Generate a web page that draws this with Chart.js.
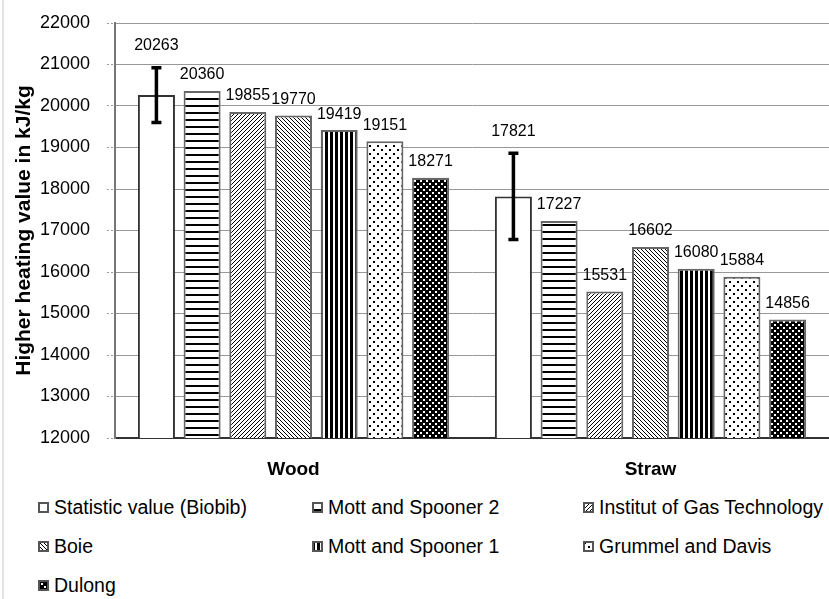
<!DOCTYPE html>
<html>
<head>
<meta charset="utf-8">
<script src="https://cdn.jsdelivr.net/npm/chart.js@4.4.0/dist/chart.umd.min.js"></script>
<style>
  body { margin: 0; background: #fff; font-family: "Liberation Sans", Arial, sans-serif; }
  #wrap { position: relative; width: 829px; height: 599px; overflow: hidden; background: #fff; }
  #frame { position: absolute; left: 2px; top: 0; width: 2px; height: 599px; background: #e2e2e2; }
  #chart { position: absolute; left: 0; top: 0; }
  .item { position: absolute; display: flex; align-items: center; height: 24px;
          font-size: 19.5px; color: #000; white-space: nowrap; }
  .item canvas { margin-right: 5px; }
</style>
</head>
<body>
<div id="wrap">
  <canvas id="chart" width="829" height="485"></canvas>
  <div id="frame"></div>
  <div id="legend"></div>
</div>
<script>
// categories and series (kJ/kg)
const categories = ["Wood", "Straw"];
const seriesNames = [
    "Statistic value (Biobib)",
    "Mott and Spooner 2",
    "Institut of Gas Technology",
    "Boie",
    "Mott and Spooner 1",
    "Grummel and Davis",
    "Dulong"
];
const statisticValue = [20263, 17821];
const mottSpooner2 = [20360, 17227];
const institutGasTech = [19855, 15531];
const boie = [19770, 16602];
const mottSpooner1 = [19419, 16080];
const grummelDavis = [19151, 15884];
const dulong = [18271, 14856];
// error bar on the statistic value (+/-)
const statisticError = [660, 1040];

const yMin = 12000, yMax = 22000, yStep = 1000;

// little pixel tiles used as bar fills
function makeTile(w, h, bg, fg, rects) {
    const c = document.createElement("canvas");
    c.width = w; c.height = h;
    const g = c.getContext("2d");
    g.fillStyle = bg; g.fillRect(0, 0, w, h);
    g.fillStyle = fg;
    rects.forEach(r => g.fillRect(r[0], r[1], r[2] || 1, r[3] || 1));
    return c;
}

const tiles = [
    makeTile(4, 4, "#fff", "#fff", []),
    makeTile(4, 7, "#fff", "#000", [[0, 0, 4, 2]]),
    makeTile(4, 4, "#fff", "#000", [[3, 0], [2, 1], [1, 2], [0, 3]]),
    makeTile(4, 4, "#fff", "#000", [[0, 0], [1, 1], [2, 2], [3, 3]]),
    makeTile(5, 1, "#fff", "#000", [[0, 0, 3, 1]]),
    makeTile(8, 8, "#fff", "#000", [[1, 1, 2, 2], [5, 5, 2, 2]]),
    makeTile(6, 6, "#000", "#fff", [[0, 0, 2, 2], [3, 3, 2, 2]])
];

const patCtx = document.createElement("canvas").getContext("2d");
const patterns = tiles.map(t => patCtx.createPattern(t, "repeat"));

const seriesValues = [statisticValue, mottSpooner2, institutGasTech, boie, mottSpooner1, grummelDavis, dulong];

const datasets = seriesValues.map((vals, i) => ({
    label: seriesNames[i],
    data: vals,
    backgroundColor: patterns[i],
    borderColor: i === 0 ? "#333" : "#666",
    borderWidth: 2,
    barPercentage: 0.81,
    categoryPercentage: 0.896
}));

// error bars for the first series
const errorBarPlugin = {
    id: "errorBars",
    afterDatasetsDraw(chart) {
        const meta = chart.getDatasetMeta(0);
        const y = chart.scales.y;
        const ctx = chart.ctx;
        ctx.save();
        ctx.strokeStyle = "#000";
        ctx.lineWidth = 3.5;
        meta.data.forEach((bar, i) => {
            const v = statisticValue[i], e = statisticError[i];
            const top = y.getPixelForValue(v + e), bot = y.getPixelForValue(v - e);
            ctx.beginPath();
            ctx.moveTo(bar.x, top); ctx.lineTo(bar.x, bot);
            ctx.moveTo(bar.x - 5, top); ctx.lineTo(bar.x + 5, top);
            ctx.moveTo(bar.x - 5, bot); ctx.lineTo(bar.x + 5, bot);
            ctx.stroke();
        });
        ctx.restore();
    }
};

// value labels over each bar
const valueLabelPlugin = {
    id: "valueLabels",
    afterDatasetsDraw(chart) {
        const ctx = chart.ctx;
        const y = chart.scales.y;
        ctx.save();
        ctx.font = '16px "Liberation Sans", Arial, sans-serif';
        ctx.fillStyle = "#000";
        ctx.textAlign = "center";
        ctx.textBaseline = "middle";
        chart.data.datasets.forEach((ds, di) => {
            chart.getDatasetMeta(di).data.forEach((bar, i) => {
                let ty = bar.y - 16;
                if (di === 0) ty = y.getPixelForValue(ds.data[i] + statisticError[i]) - 22;
                ctx.fillText(String(ds.data[i]), bar.x, ty);
            });
        });
        ctx.restore();
    }
};

new Chart(document.getElementById("chart"), {
    type: "bar",
    data: { labels: categories, datasets: datasets },
    options: {
        responsive: false,
        animation: false,
        devicePixelRatio: 1,
        layout: { padding: { top: 23, right: 0, left: 0, bottom: 0 } },
        plugins: {
            legend: { display: false },
            tooltip: { enabled: false }
        },
        scales: {
            x: {
                grid: { display: false },
                border: { display: true, color: "#333", width: 2 },
                ticks: {
                    color: "#000",
                    padding: 12,
                    font: { family: '"Liberation Sans", Arial, sans-serif', size: 19, weight: "bold" }
                },
                afterFit(scale) { scale.height = 47; }
            },
            y: {
                min: yMin,
                max: yMax,
                ticks: {
                    stepSize: yStep,
                    color: "#000",
                    padding: 17,
                    font: { family: '"Liberation Sans", Arial, sans-serif', size: 18 },
                    callback: v => String(v)
                },
                grid: {
                    color: "#999",
                    lineWidth: 1,
                    borderDash: [4, 3],
                    tickLength: 8,
                    tickBorderDash: [2, 2]
                },
                border: { display: true, color: "#777", width: 2 },
                title: {
                    display: true,
                    text: "Higher heating value in kJ/kg",
                    color: "#000",
                    padding: { top: 12, bottom: 0 },
                    font: { family: '"Liberation Sans", Arial, sans-serif', size: 21, weight: "bold" }
                },
                afterFit(scale) {
                    scale.width = 115;
                    // tick padding would otherwise push the plot top down
                    scale.paddingTop = 0;
                    scale.paddingBottom = 0;
                }
            }
        }
    },
    plugins: [errorBarPlugin, valueLabelPlugin]
});

// legend in three columns, row by row
const legendCols = [38, 312, 583];
const legendRows = [507, 546, 585];
const legendEl = document.getElementById("legend");
seriesNames.forEach((name, i) => {
    const item = document.createElement("div");
    item.className = "item";
    item.style.left = legendCols[i % 3] + "px";
    item.style.top = (legendRows[Math.floor(i / 3)] - 12) + "px";
    const sw = document.createElement("canvas");
    sw.width = 11; sw.height = 11;
    const g = sw.getContext("2d");
    g.fillStyle = g.createPattern(tiles[i], "repeat");
    g.fillRect(0, 0, 11, 11);
    g.strokeStyle = "#555";
    g.lineWidth = 2;
    g.strokeRect(1, 1, 9, 9);
    item.appendChild(sw);
    const span = document.createElement("span");
    span.textContent = name;
    item.appendChild(span);
    legendEl.appendChild(item);
});
</script>
</body>
</html>
